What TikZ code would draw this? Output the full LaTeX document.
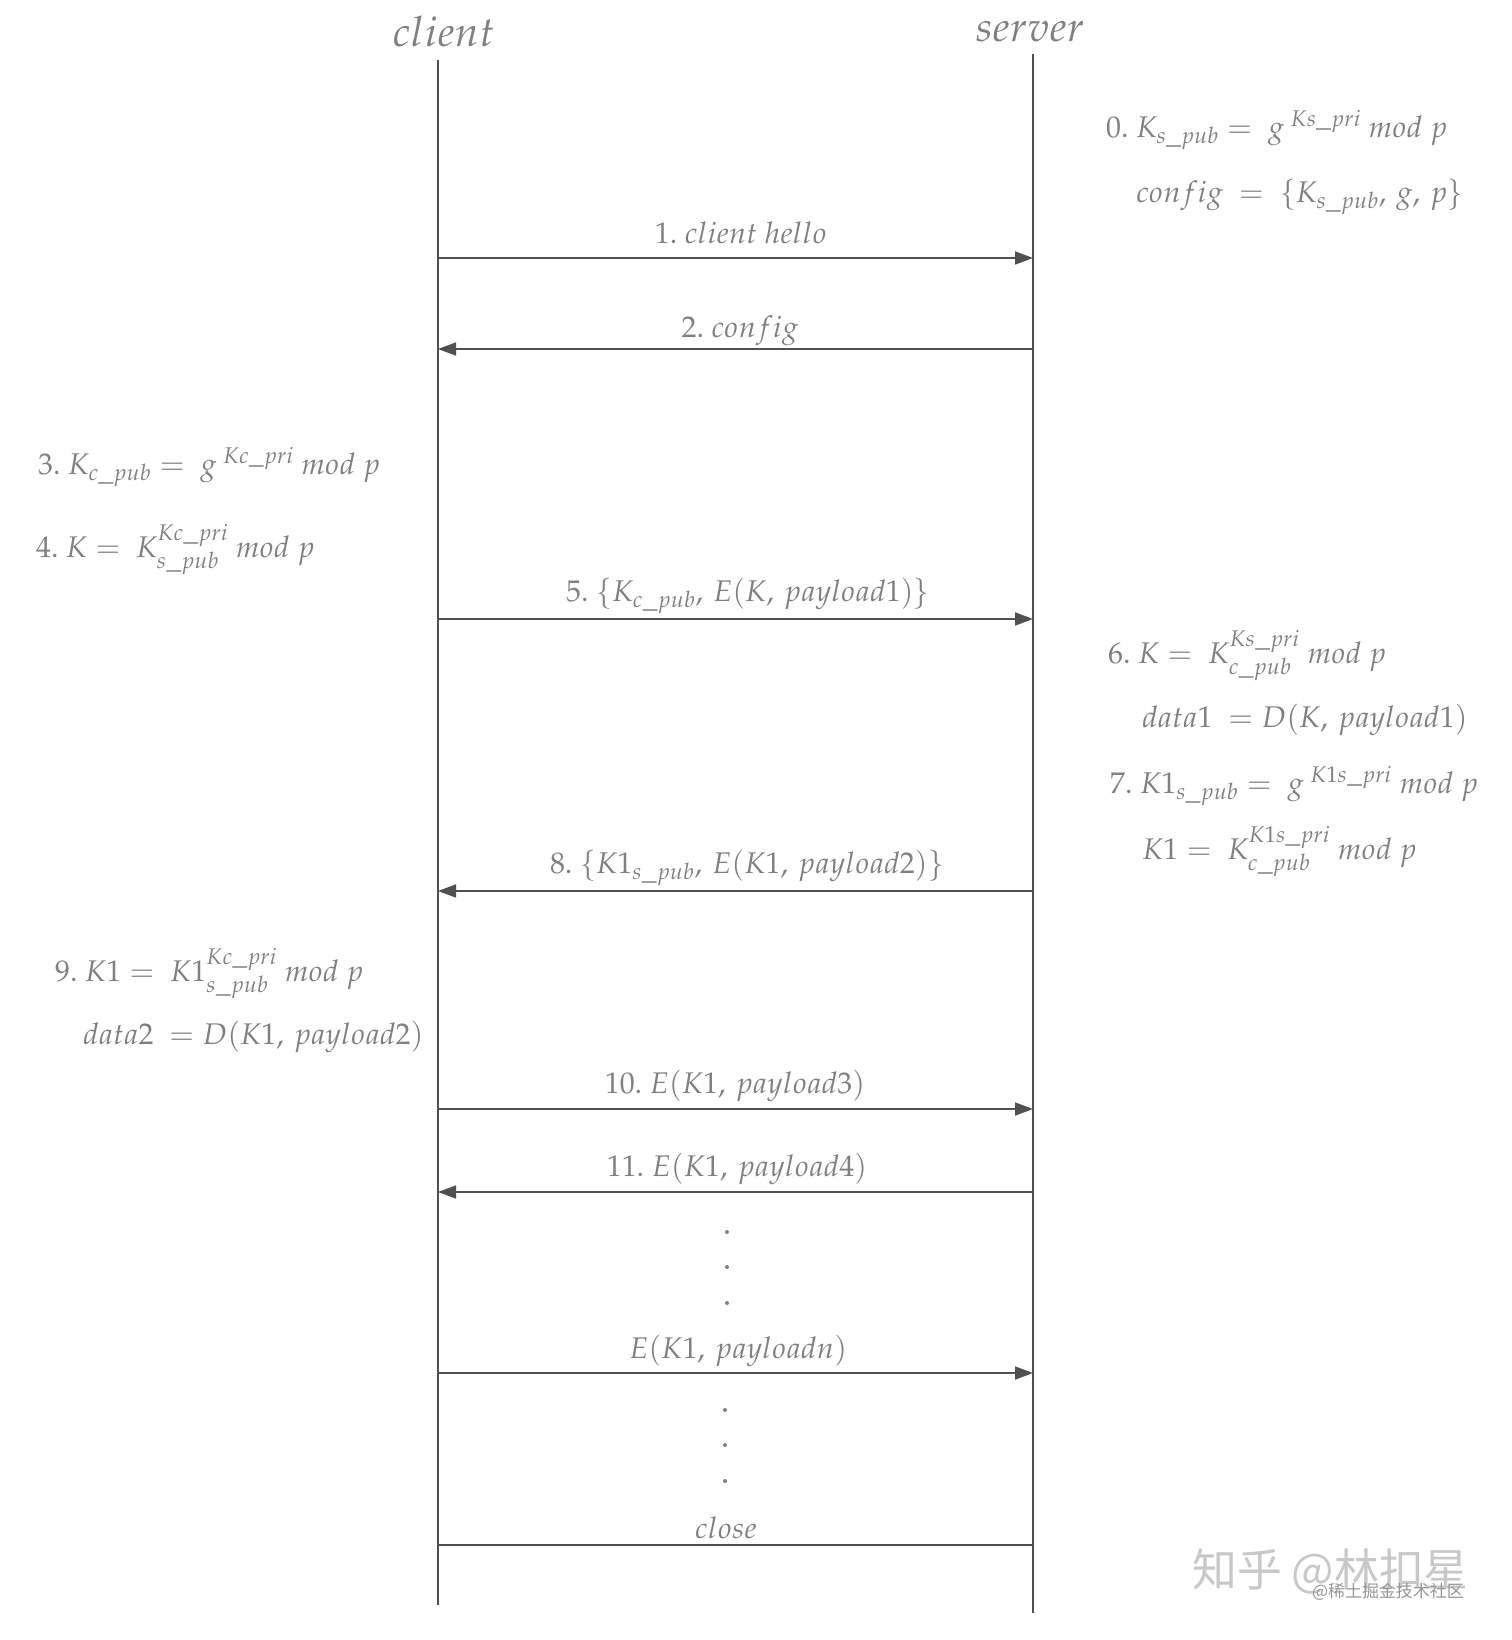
\documentclass[tikz,border=0pt]{standalone}
\usepackage{fontspec}
\usepackage[T1]{fontenc}
\usepackage{mathpazo}
\newfontfamily\cjk{Noto Sans CJK SC}
\usetikzlibrary{arrows.meta}
\definecolor{txt}{RGB}{128,128,128}
\definecolor{ln}{RGB}{80,80,80}
\definecolor{wm}{RGB}{200,200,200}
\tikzset{
  life/.style={draw=ln, line width=1.6bp},
  msg/.style={draw=ln, line width=1.6bp, -{Triangle[length=18bp,width=13bp]}},
  plain/.style={draw=ln, line width=1.6bp},
  lbl/.style={text=txt, font=\fontsize{30}{36}\selectfont, inner sep=0pt, anchor=base},
  note/.style={text=txt, font=\fontsize{30}{36}\selectfont, inner sep=0pt, anchor=base west},
  head/.style={text=txt, font=\fontsize{42}{50}\selectfont, inner sep=0pt, anchor=base},
  dot/.style={circle, fill=txt, inner sep=0pt, minimum size=4bp}
}
\begin{document}
\begin{tikzpicture}[x=1bp,y=-1bp]
\useasboundingbox (0,0) rectangle (1512,1640);
% headers
\node[head] (hc) at (444,47) {$client$};
\node[head] (hs) at (1030,42) {$server$};
% lifelines
\coordinate (ct) at (438,60);
\coordinate (cb) at (438,1605);
\coordinate (st) at (1033,54);
\coordinate (sb) at (1033,1613);
\draw[life] (ct) -- (cb);
\draw[life] (st) -- (sb);
% message endpoints
\foreach \n/\y in {m1/258, m2/349, m5/619, m8/891, m10/1109, m11/1192, mn/1373, mc/1545}{
  \coordinate (c\n) at (438,\y);
  \coordinate (s\n) at (1033,\y);
}
\draw[msg] (cm1) -- (sm1);
\draw[msg] (sm2) -- (cm2);
\draw[msg] (cm5) -- (sm5);
\draw[msg] (sm8) -- (cm8);
\draw[msg] (cm10) -- (sm10);
\draw[msg] (sm11) -- (cm11);
\draw[msg] (cmn) -- (smn);
\draw[plain] (cmc) -- (smc);
% message labels
\node[lbl] (l1) at (741,243) {$1.\ client\ hello$};
\node[lbl] (l2) at (740,337) {$2.\ config$};
\node[lbl] (l5) at (748,601) {$5.\ \{K_{c\_pub},\,E(K,\,payload1)\}$};
\node[lbl] (l8) at (747,873) {$8.\ \{K1_{s\_pub},\,E(K1,\,payload2)\}$};
\node[lbl] (l10) at (735,1093) {$10.\ E(K1,\,payload3)$};
\node[lbl] (l11) at (737,1176) {$11.\ E(K1,\,payload4)$};
\node[lbl] (ln) at (738,1358) {$E(K1,\,payloadn)$};
\node[lbl] (lc) at (726,1538) {$close$};
% dots
\node[dot] (d1) at (727,1232) {};
\node[dot] (d2) at (727,1267) {};
\node[dot] (d3) at (727,1303) {};
\node[dot] (d4) at (725,1410) {};
\node[dot] (d5) at (725,1445) {};
\node[dot] (d6) at (725,1481) {};
% server notes
\node[note] (n0) at (1106,137) {$0.\ K_{s\_pub} =\ g^{\;Ks\_pri}\ mod\ p$};
\node[note] (n0b) at (1136,202) {$config\ =\ \{K_{s\_pub},\,g,\,p\}$};
\node[note] (n6) at (1108,663) {$6.\ K =\ K_{c\_pub}^{Ks\_pri}\ mod\ p$};
\node[note] (n6b) at (1142,727) {$data1\ = D(K,\,payload1)$};
\node[note] (n7) at (1110,793) {$7.\ K1_{s\_pub} =\ g^{\;K1s\_pri}\ mod\ p$};
\node[note] (n7b) at (1142,859) {$K1 =\ K_{c\_pub}^{K1s\_pri}\ mod\ p$};
% client notes
\node[note] (n3) at (38,474) {$3.\ K_{c\_pub} =\ g^{\;Kc\_pri}\ mod\ p$};
\node[note] (n4) at (36,557) {$4.\ K =\ K_{s\_pub}^{Kc\_pri}\ mod\ p$};
\node[note] (n9) at (55,981) {$9.\ K1 =\ K1_{s\_pub}^{Kc\_pri}\ mod\ p$};
\node[note] (n9b) at (83,1044) {$data2\ = D(K1,\,payload2)$};
% watermark
\node[text=wm, font=\cjk\fontsize{45}{50}\selectfont, inner sep=0pt, anchor=west] (w1) at (1192,1572) {知乎 @林扣星};
\node[text=wm!75!black, font=\cjk\fontsize{17}{20}\selectfont, inner sep=0pt, anchor=west] (w2) at (1312,1592) {@稀土掘金技术社区};
\end{tikzpicture}
\end{document}
